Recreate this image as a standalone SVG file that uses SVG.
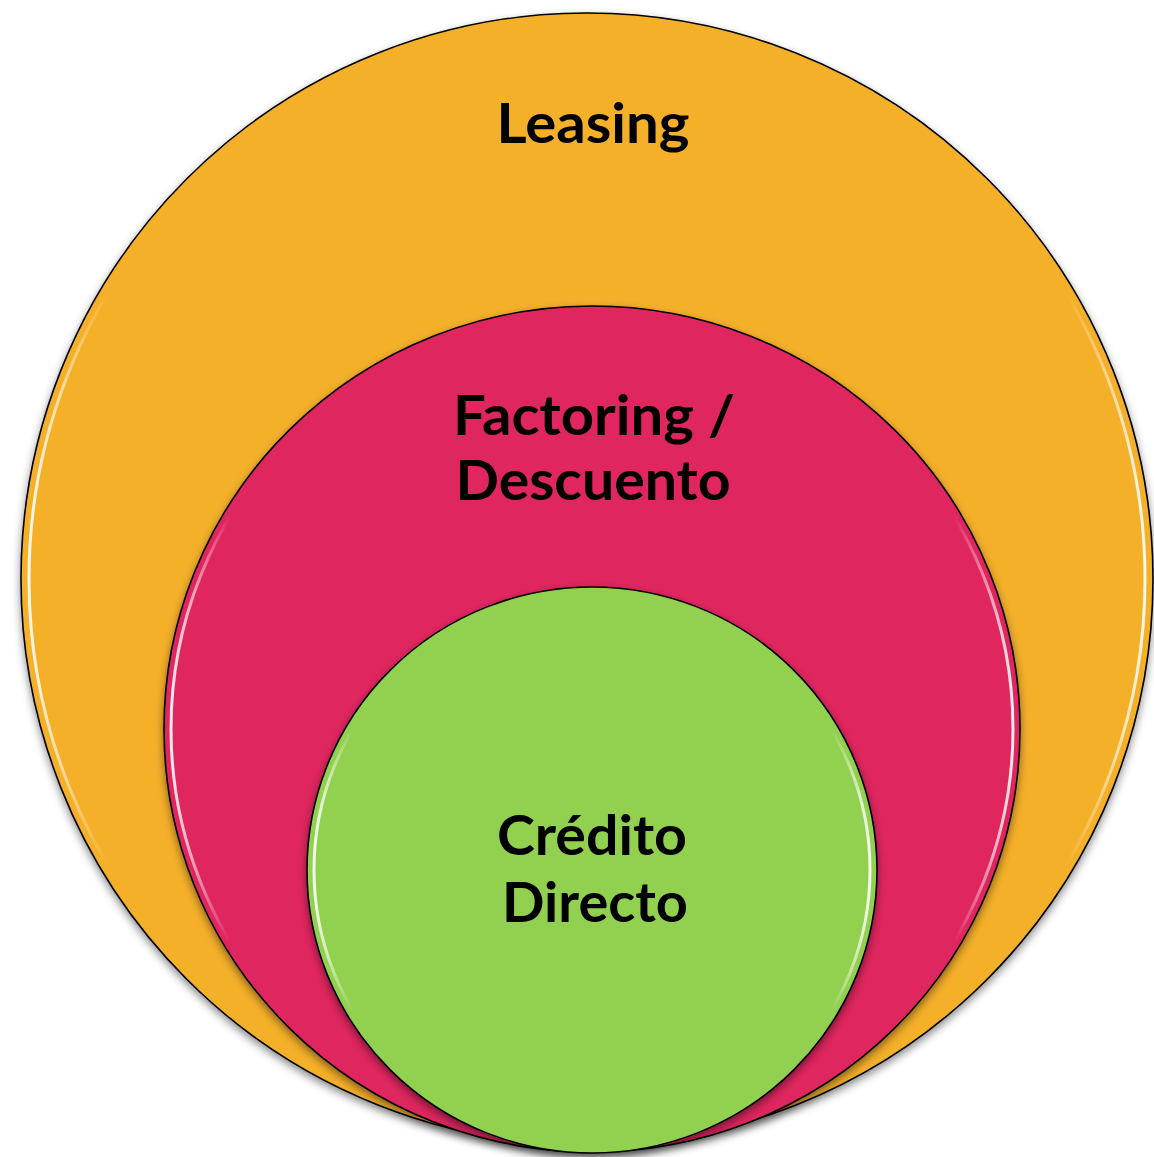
<svg xmlns="http://www.w3.org/2000/svg" width="1154" height="1157" viewBox="0 0 1154 1157">
  <defs>
    <filter id="shadow" x="-10%" y="-10%" width="120%" height="125%">
      <feDropShadow dx="0" dy="4" stdDeviation="4" flood-color="#000" flood-opacity="0.45"/>
    </filter>
    <linearGradient id="gloss" x1="0" y1="0" x2="1" y2="0">
      <stop offset="0" stop-color="#fff" stop-opacity="0.9"/>
      <stop offset="0.07" stop-color="#fff" stop-opacity="0"/>
      <stop offset="0.93" stop-color="#fff" stop-opacity="0"/>
      <stop offset="1" stop-color="#fff" stop-opacity="0.9"/>
    </linearGradient>
    <style>
      .ring { stroke: #000; stroke-width: 1.6; filter: url(#shadow); }
      .gloss { fill: none; stroke: url(#gloss); stroke-width: 3; }
      .label { font-family: Lato, "Liberation Sans", sans-serif; font-weight: bold; font-size: 55px; fill: #000; text-anchor: middle; }
    </style>
  </defs>
  <rect width="1154" height="1157" fill="#fff"/>
  <g id="leasing">
    <ellipse class="ring" cx="587" cy="579" rx="566" ry="566" fill="#F5B02A"/>
    <ellipse class="gloss" cx="587" cy="579" rx="558" ry="558"/>
    <text class="label" x="593" y="143" textLength="193" lengthAdjust="spacingAndGlyphs">Leasing</text>
  </g>
  <g id="factoring">
    <ellipse class="ring" cx="592" cy="729" rx="428" ry="423" fill="#E0265F"/>
    <ellipse class="gloss" cx="592" cy="729" rx="421" ry="416"/>
    <text class="label" x="594" y="435" textLength="282" lengthAdjust="spacingAndGlyphs">Factoring /</text>
    <text class="label" x="593" y="500" textLength="275" lengthAdjust="spacingAndGlyphs">Descuento</text>
  </g>
  <g id="credito">
    <ellipse class="ring" cx="592" cy="870" rx="285" ry="283" fill="#92D050"/>
    <ellipse class="gloss" cx="592" cy="870" rx="278" ry="276"/>
    <text class="label" x="592" y="855" textLength="190" lengthAdjust="spacingAndGlyphs">Crédito</text>
    <text class="label" x="595" y="922" textLength="186" lengthAdjust="spacingAndGlyphs">Directo</text>
  </g>
  <g id="connectors"/>
</svg>
